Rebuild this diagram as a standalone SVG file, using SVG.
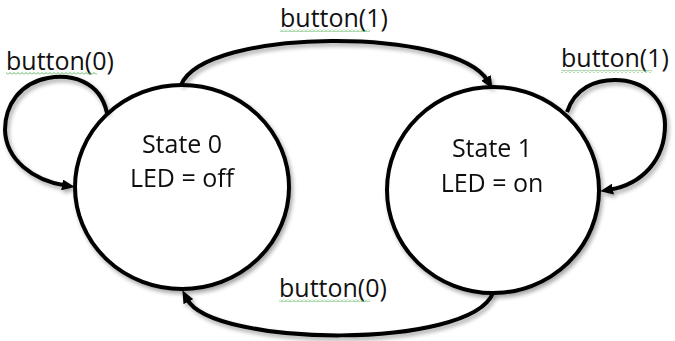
<svg xmlns="http://www.w3.org/2000/svg" width="675" height="341" viewBox="0 0 675 341">
  <defs>
    <style>
      .state { fill: #ffffff; stroke: #000; stroke-width: 4; }
      .edge { fill: none; stroke: #000; stroke-width: 4; }
      .txt { font-family: "Open Sans", "Liberation Sans", sans-serif; font-size: 25px; fill: #111; }
      .lbl { font-family: "Open Sans", "Liberation Sans", sans-serif; font-size: 25px; fill: #111; }
    </style>
    <filter id="shadow" x="-20%" y="-20%" width="140%" height="140%">
      <feGaussianBlur in="SourceAlpha" stdDeviation="2"/>
      <feOffset dx="2" dy="3" result="off"/>
      <feComponentTransfer><feFuncA type="linear" slope="0.35"/></feComponentTransfer>
      <feMerge><feMergeNode/><feMergeNode in="SourceGraphic"/></feMerge>
    </filter>
    <marker id="arrow" viewBox="0 0 13 11" refX="3" refY="5.5" markerWidth="13" markerHeight="11" markerUnits="userSpaceOnUse" orient="auto">
      <path d="M0,0 L13,5.5 L0,11 z" fill="#000"/>
    </marker>
    <!-- spell-check style wavy underline -->
    <pattern id="squiggle" width="4" height="3" patternUnits="userSpaceOnUse">
      <polyline points="0,2.5 2,0.5 4,2.5" fill="none" stroke="#4caf50" stroke-width="0.9"/>
    </pattern>
  </defs>

  <g id="state0" filter="url(#shadow)">
    <ellipse class="state" cx="182" cy="187" rx="107" ry="102"/>
    <text class="txt" x="182" y="153" text-anchor="middle">State 0</text>
    <text class="txt" x="182" y="187" text-anchor="middle">LED = off</text>
  </g>

  <g id="state1" filter="url(#shadow)">
    <ellipse class="state" cx="493" cy="190" rx="106" ry="103"/>
    <text class="txt" x="492" y="157" text-anchor="middle">State 1</text>
    <text class="txt" x="492" y="192" text-anchor="middle">LED = on</text>
  </g>

  <g id="connectors" filter="url(#shadow)">
    <!-- state 0 -> state 1 -->
    <path class="edge" marker-end="url(#arrow)" d="M181,85 C205,27 455,27 487.5,80.5"/>
    <!-- state 1 -> state 0 -->
    <path class="edge" marker-end="url(#arrow)" d="M493,293 C470,350 212,347 187,299"/>
    <!-- state 0 self loop -->
    <path class="edge" marker-end="url(#arrow)" d="M107,113 C100,80 70,74 48,78 C20,83 5,105 5,130 C6,160 33,180 65,185.4"/>
    <!-- state 1 self loop -->
    <path class="edge" marker-end="url(#arrow)" d="M567,112 C575,88 595,80 615,80 C645,80 665,100 665,125 C665,160 642,184 610,189.6"/>
  </g>

  <g id="labels">
    <text class="lbl" x="6" y="70">button(0)</text>
    <rect x="6" y="72" width="91" height="3" fill="url(#squiggle)"/>
    <text class="lbl" x="280" y="27">button(1)</text>
    <rect x="280" y="29" width="90" height="3" fill="url(#squiggle)"/>
    <text class="lbl" x="561" y="67">button(1)</text>
    <rect x="561" y="70" width="91" height="3" fill="url(#squiggle)"/>
    <text class="lbl" x="279" y="297">button(0)</text>
    <rect x="279" y="299" width="91" height="3" fill="url(#squiggle)"/>
  </g>
</svg>
